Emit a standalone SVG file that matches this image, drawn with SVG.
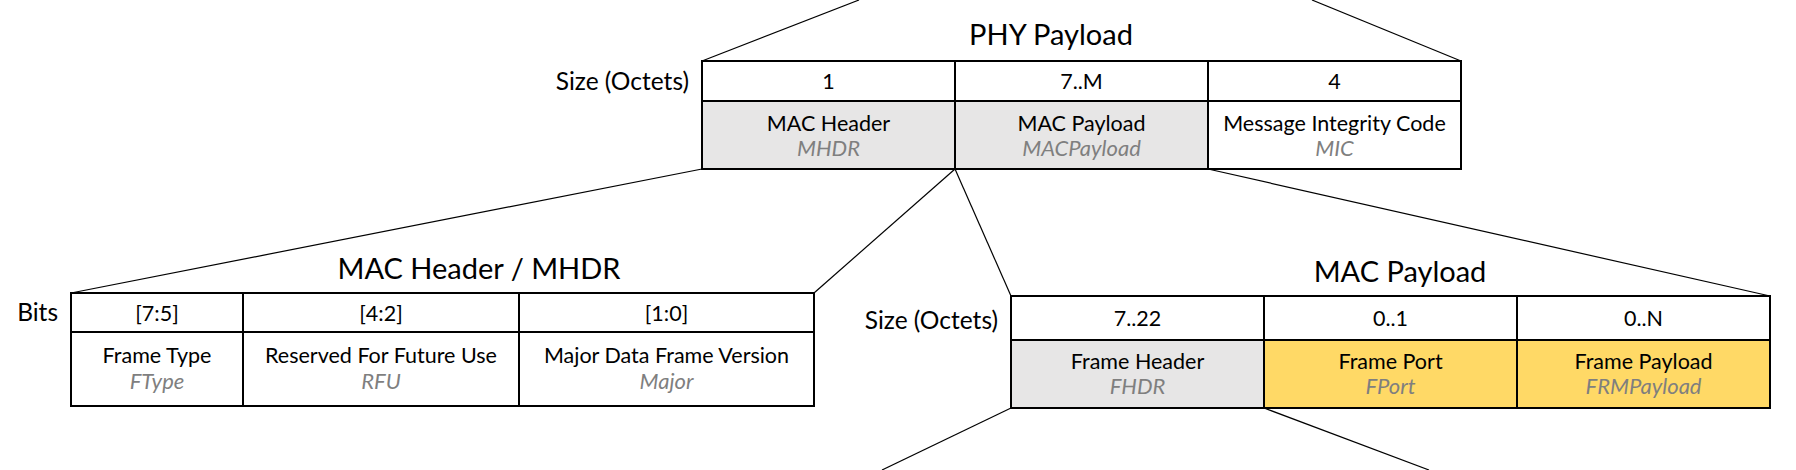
<svg xmlns="http://www.w3.org/2000/svg" width="1796" height="470" viewBox="0 0 1796 470">
<style>
  .bg{fill:#ffffff}
  .cell{stroke:#000;stroke-width:2}
  .w{fill:#ffffff}
  .g{fill:#e7e6e6}
  .y{fill:#ffd966}
  .t{font-family:Lato,"Open Sans",sans-serif;font-size:21.5px;fill:#000;text-anchor:middle}
  .i{font-family:Lato,"Open Sans",sans-serif;font-size:22px;font-style:italic;fill:#7f7f7f;text-anchor:middle}
  .lbl{font-family:Lato,"Open Sans",sans-serif;font-size:24.5px;fill:#000;text-anchor:end}
  .title{font-family:Lato,"Open Sans",sans-serif;font-size:29px;fill:#000;text-anchor:middle}
  .conn{stroke:#000;stroke-width:1.2;fill:none}
</style>
<rect class="bg" x="0" y="0" width="1796" height="470"/>

<g id="connectors">
  <line class="conn" x1="702" y1="61" x2="859" y2="0"/>
  <line class="conn" x1="1461" y1="61" x2="1312" y2="0"/>
  <line class="conn" x1="702" y1="169" x2="71" y2="293"/>
  <line class="conn" x1="955" y1="169" x2="814" y2="293"/>
  <line class="conn" x1="955" y1="169" x2="1011" y2="296"/>
  <line class="conn" x1="1208" y1="169" x2="1770" y2="296"/>
  <line class="conn" x1="1011" y1="408" x2="882" y2="470"/>
  <line class="conn" x1="1264" y1="408" x2="1429" y2="470"/>
</g>

<g id="phy-payload">
  <text class="title" x="1051" y="45">PHY Payload</text>
  <text class="lbl" x="689" y="90">Size (Octets)</text>
  <g id="phy-mhdr">
    <rect class="cell w" x="702" y="61" width="253" height="40"/>
    <rect class="cell g" x="702" y="101" width="253" height="68"/>
    <text class="t" x="828.5" y="88.5">1</text>
    <text class="t" x="828.5" y="130.5">MAC Header</text>
    <text class="i" x="828.5" y="155.5">MHDR</text>
  </g>
  <g id="phy-macpayload">
    <rect class="cell w" x="955" y="61" width="253" height="40"/>
    <rect class="cell g" x="955" y="101" width="253" height="68"/>
    <text class="t" x="1081.5" y="88.5">7..M</text>
    <text class="t" x="1081.5" y="130.5">MAC Payload</text>
    <text class="i" x="1081.5" y="155.5">MACPayload</text>
  </g>
  <g id="phy-mic">
    <rect class="cell w" x="1208" y="61" width="253" height="40"/>
    <rect class="cell w" x="1208" y="101" width="253" height="68"/>
    <text class="t" x="1334.5" y="88.5">4</text>
    <text class="t" x="1334.5" y="130.5">Message Integrity Code</text>
    <text class="i" x="1334.5" y="155.5">MIC</text>
  </g>
</g>

<g id="mac-header">
  <text class="title" x="479" y="279">MAC Header / MHDR</text>
  <text class="lbl" x="58" y="321">Bits</text>
  <g id="mhdr-ftype">
    <rect class="cell w" x="71" y="293" width="172" height="39"/>
    <rect class="cell w" x="71" y="332" width="172" height="74"/>
    <text class="t" x="157" y="320.5">[7:5]</text>
    <text class="t" x="157" y="362.5">Frame Type</text>
    <text class="i" x="157" y="388.5">FType</text>
  </g>
  <g id="mhdr-rfu">
    <rect class="cell w" x="243" y="293" width="276" height="39"/>
    <rect class="cell w" x="243" y="332" width="276" height="74"/>
    <text class="t" x="381" y="320.5">[4:2]</text>
    <text class="t" x="381" y="362.5">Reserved For Future Use</text>
    <text class="i" x="381" y="388.5">RFU</text>
  </g>
  <g id="mhdr-major">
    <rect class="cell w" x="519" y="293" width="295" height="39"/>
    <rect class="cell w" x="519" y="332" width="295" height="74"/>
    <text class="t" x="666.5" y="320.5">[1:0]</text>
    <text class="t" x="666.5" y="362.5">Major Data Frame Version</text>
    <text class="i" x="666.5" y="388.5">Major</text>
  </g>
</g>

<g id="mac-payload">
  <text class="title" x="1400" y="282">MAC Payload</text>
  <text class="lbl" x="998" y="329">Size (Octets)</text>
  <g id="mp-fhdr">
    <rect class="cell w" x="1011" y="296" width="253" height="44"/>
    <rect class="cell g" x="1011" y="340" width="253" height="68"/>
    <text class="t" x="1137.5" y="325.5">7..22</text>
    <text class="t" x="1137.5" y="368.5">Frame Header</text>
    <text class="i" x="1137.5" y="393.5">FHDR</text>
  </g>
  <g id="mp-fport">
    <rect class="cell w" x="1264" y="296" width="253" height="44"/>
    <rect class="cell y" x="1264" y="340" width="253" height="68"/>
    <text class="t" x="1390.5" y="325.5">0..1</text>
    <text class="t" x="1390.5" y="368.5">Frame Port</text>
    <text class="i" x="1390.5" y="393.5">FPort</text>
  </g>
  <g id="mp-frmpayload">
    <rect class="cell w" x="1517" y="296" width="253" height="44"/>
    <rect class="cell y" x="1517" y="340" width="253" height="68"/>
    <text class="t" x="1643.5" y="325.5">0..N</text>
    <text class="t" x="1643.5" y="368.5">Frame Payload</text>
    <text class="i" x="1643.5" y="393.5">FRMPayload</text>
  </g>
</g>
</svg>
